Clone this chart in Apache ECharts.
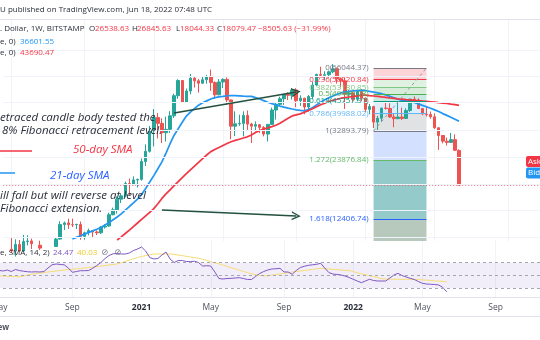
<!DOCTYPE html>
<html>
<head>
<meta charset="utf-8">
<script src="https://cdn.jsdelivr.net/npm/echarts@6.0.0/dist/echarts.min.js"></script>
<style>
html,body{margin:0;padding:0;background:#ffffff}
#chart{width:540px;height:340px}
</style>
</head>
<body>
<div id="chart"></div>
<script>
// Weekly BTC/USD candles (Bitstamp), one per week starting Monday 2020-04-20
const firstWeekUTC = Date.UTC(2020, 3, 20);
const WEEK_MS = 7 * 864e5;
const slotCount = 137; // candle weeks plus empty space to the right
const weeks = Array.from({length: slotCount}, (_, i) => new Date(firstWeekUTC + i * WEEK_MS).toISOString().slice(0, 10));

const open = [6880,7550,8900,8720,9380,8720,9680,9750,9460,9300,
  9010,9290,9240,9170,9950,11690,11900,11670,11650,11700,
  10260,10670,10930,10770,10670,11370,11500,13030,13760,15480,
  16060,18400,18180,19150,19270,23480,26280,33000,38150,35800,
  32280,33500,38900,48600,57500,45200,51200,59000,57300,55800,
  58000,59800,56200,49100,56600,58200,46400,34700,35600,35800,
  39100,35500,34700,35300,34250,31800,35400,41500,44200,47000,
  49300,48800,51800,46000,47300,42900,48200,54700,61500,60900,
  61300,63300,65500,58700,57300,49400,50100,46700,50800,47300,
  41800,43100,36300,37900,42400,42200,38400,37700,38400,37800,
  41300,46800,46400,42200,39700,39500,38500,34100,31300,29400,
  29000,29900,26538.63];
const high = [7790,9470,10070,9930,9850,10430,10380,10000,9640,9780,
  9330,9470,9340,10120,12120,12090,12470,12480,11800,12090,
  10800,11180,10990,10960,11480,11730,13350,14100,15960,16480,
  18800,19420,19920,19420,24280,28400,34800,41950,40100,37850,
  38600,41000,49700,58350,57500,52600,61800,60200,58500,60000,
  61200,64900,57000,58400,59000,59500,46600,40900,39400,40900,
  41300,36000,36600,35400,34700,35500,42600,45300,48100,49400,
  50500,52900,52800,48800,47500,49000,56600,62000,67000,63700,
  64200,69000,66300,59300,59100,51900,50600,51900,52100,47600,
  44400,43500,38900,42500,45800,44700,40000,45400,42600,42300,
  47000,48200,47200,42400,42900,40800,40000,34200,31400,30600,
  32200,31700,26845.63];
const low = [6790,7530,8550,8200,8700,8640,9280,8920,9190,8830,
  8900,9120,9000,9130,9900,11000,11140,11370,11120,9880,
  9880,10370,10130,10410,10530,11180,11420,12950,13200,14830,
  15800,16200,18100,17600,19000,22360,25900,27730,30300,28800,
  29240,32200,37980,47000,44900,45000,49400,53200,50300,55600,
  55500,51300,47000,48800,52900,43900,30000,31100,34800,31000,
  33300,28800,32700,32100,31000,29300,35200,37300,43700,43900,
  46300,46600,42800,43400,39600,40800,46900,53900,59500,57800,
  59500,62300,55600,53300,42000,46800,45500,45600,45700,40600,
  39600,34000,32900,36300,41700,38000,34300,37500,37200,37600,
  40500,45200,41900,39200,38600,37700,33700,26700,28700,28000,
  28900,26400,18044.33];
const close = [7550,8900,8720,9380,8720,9680,9750,9460,9300,9010,
  9290,9240,9170,9950,11690,11900,11670,11650,11700,10260,
  10670,10930,10770,10670,11370,11500,13030,13760,15480,16060,
  18400,18180,19150,19270,23480,26280,33000,38150,35800,32280,
  33500,38900,48600,57500,45200,51200,59000,57300,55800,58000,
  59800,56200,49100,56600,58200,46400,34700,35600,35800,39100,
  35500,34700,35300,34250,31800,35400,41500,44200,47000,49300,
  48800,51800,46000,47300,42900,48200,54700,61500,60900,61300,
  63300,65500,58700,57300,49400,50100,46700,50800,47300,41800,
  43100,36300,37900,42400,42200,38400,37700,38400,37800,41300,
  46800,46400,42200,39700,39500,38500,34100,31300,29400,29000,
  29900,26585.10,18079.47];

// 21-week SMA (blue), first value at week index 17
const sma21Start = 17;
const sma21 = [9960,10140,10320,10510,10700,10900,11090,11310,11620,11940,
  12320,12710,13150,13700,14270,14850,15470,16300,17430,18700,
  20090,21680,23370,25760,28580,31400,33750,36220,38830,40550,
  42100,43770,44940,45900,46870,47600,48030,48300,48600,48700,
  48650,48500,48350,48300,48240,47600,46870,46050,45240,44550,
  43960,43330,42810,42380,41960,41590,41320,41090,41690,42570,
  43860,45190,46460,47450,48460,49320,50150,50750,51040,51270,
  51440,51660,51490,51040,50590,50150,49700,49050,48290,47550,
  46720,46200,45900,45540,45100,44400,43670,42990,42290,41550,
  40820,39880,39100,38280,37490,36601.55];

// 50-week SMA (red), first value at week index 28
const sma50Start = 28;
const sma50 = [9850,10200,10590,10980,11430,11890,12370,12860,13390,13940,
  14720,15610,16410,17170,17970,18800,19650,20510,21400,22310,
  23270,24250,25230,26190,26780,27380,28020,28650,29230,29650,
  30040,30450,30850,31480,32320,33080,33560,34050,34540,35040,
  35860,36830,37860,38880,39310,39750,40500,41230,42060,43050,
  43960,44740,45590,46200,46720,47290,47600,47920,48240,48560,
  48890,48890,48670,48460,48240,47970,47760,47450,47240,46980,
  46770,46560,46410,46200,46000,45850,45640,45440,45240,44990,
  44790,44590,44300,44060,43690.47];

// RSI(14) and its 14-period SMA, one value per week from index 0
const rsi = [57.0,60.0,58.0,
  57.0,58.6,56.2,59.4,57.7,56.7,55.9,55.5,55.8,55.5,
  56.2,61.7,66.7,68.0,67.2,66.7,61.7,55.0,56.2,57.5,
  57.5,57.8,61.3,65.6,70.3,76.4,81.3,83.9,84.4,83.6,
  83.6,85.2,89.1,91.4,94.5,88.3,78.1,75.8,76.6,82.0,
  86.7,75.8,70.3,73.4,73.4,71.9,71.6,72.3,70.3,64.8,
  65.3,64.8,55.5,45.3,44.5,45.3,45.6,46.1,46.6,45.3,
  43.8,43.8,48.4,53.1,56.2,58.6,60.2,60.5,61.3,55.5,
  55.5,51.9,57.8,62.5,64.4,65.9,66.7,67.5,69.1,61.7,
  54.7,52.3,51.6,50.8,49.2,46.9,44.1,41.4,38.8,41.4,
  44.1,42.2,41.4,41.4,41.4,46.1,50.8,53.4,50.0,47.7,
  45.6,43.8,40.6,37.8,36.7,36.3,35.9,35.2,31.3,24.47];
const rsiMa = [49.5,49.3,49.2,
  49.2,48.9,48.6,48.3,48.1,49.2,50.6,51.9,53.0,53.9,
  54.5,55.5,56.2,57.0,57.8,58.6,59.2,59.8,60.3,60.9,
  61.6,62.3,63.1,63.9,64.7,65.5,66.4,67.2,68.0,70.0,
  72.0,74.1,76.1,78.1,79.8,81.1,82.3,83.6,83.6,83.6,
  83.6,83.6,83.1,82.0,81.1,80.0,78.9,78.0,77.0,75.5,
  73.6,71.6,69.8,68.3,66.3,64.2,62.2,60.3,58.4,56.4,
  54.5,52.7,51.4,50.3,49.4,49.4,50.5,51.4,52.5,53.4,
  54.4,55.3,56.3,57.0,57.8,58.8,59.5,60.5,61.3,60.6,
  60.2,59.7,59.2,58.6,58.1,57.7,56.1,54.2,52.5,51.4,
  49.8,48.3,46.7,45.0,44.5,44.4,44.2,44.1,44.1,44.1,
  44.1,43.9,43.6,43.1,42.8,42.3,41.7,41.3,40.8,40.03];
const rsiLevels = [70, 50, 30];

// Fibonacci retracement drawing
const fibLevels = ['0','0.236','0.382','0.5','0.618','0.786','1','1.272','1.618'];
const fibPrices = [66044.37,58220.84,53180.85,49469.08,45757.31,39988.02,32893.79,23876.84,12406.74];
const fibLineColors = ['#787b86','#f23645','#81c784','#4caf50','#089981','#64b5f6','#787b86','#66bb6a','#2962ff'];
const fibBandColors = ['rgba(242,54,69,0.22)','rgba(129,199,132,0.25)','rgba(76,175,80,0.22)','rgba(8,153,129,0.22)',
  'rgba(100,181,246,0.22)','rgba(120,123,134,0.22)','rgba(41,98,255,0.2)','rgba(0,128,128,0.42)','rgba(76,120,90,0.4)'];
const fibStartWeek = 91, fibEndWeek = 104;

// Trend arrows: [week index, price] pairs
const arrowLines = [
  [[42, 40150], [72, 50640]],
  [[39, 13730], [72, 12850]]
];

// Horizontal price grid levels (log scale)
const gridPrices = [80000, 60000, 45000, 33000, 24500, 18300, 13700, 10200];
const priceMin = 9744, priceMax = 112313;

const FONT = '"Open Sans", "Noto Sans", sans-serif';
const pxPerWeek = 4.07;
const paneWidth = (slotCount - 1) * pxPerWeek;

const isMonthMark = (v) => {
  const d = new Date(v + 'T00:00:00Z');
  return d.getUTCDate() <= 7 && d.getUTCMonth() % 4 === 0;
};
const padTo = (start, arr) => Array(start).fill('-').concat(arr);

const candles = open.map((o, i) => [o, close[i], low[i], high[i]]);
const last = open.length - 1;
const change = close[last] - close[last - 1];
const changePct = change / close[last - 1] * 100;
const fmt2 = (v) => v.toFixed(2);
const signed = (v) => (v < 0 ? '\u2212' : '+') + Math.abs(v).toFixed(2);

const fibAreas = fibPrices.map((p, j) => [
  {coord: [weeks[fibStartWeek], p], itemStyle: {color: fibBandColors[j]}},
  {coord: [weeks[fibEndWeek], j + 1 < fibPrices.length ? fibPrices[j + 1] : priceMin]}
]);
const fibLines = fibPrices.map((p, j) => [
  {coord: [weeks[fibStartWeek], p], lineStyle: {color: fibLineColors[j], width: 1, type: 'solid'},
   label: {show: true, position: 'start', distance: 5, color: fibLineColors[j], fontSize: 8, fontFamily: FONT,
     padding: [0, 0, 12, 0], formatter: fibLevels[j] + '(' + fmt2(p) + ')'}},
  {coord: [weeks[fibEndWeek], p]}
]);

const chevron = 'path://M0,10 L5,0 L10,10 L8.4,10 L5,3.2 L1.6,10 Z';
const arrowData = arrowLines.map(([a, b]) => [
  {coord: [weeks[a[0]], a[1]], symbol: 'none'},
  {coord: [weeks[b[0]], b[1]], symbol: chevron, symbolSize: [9, 9]}
]);

const mainText = (x, y, text, fill, extra) => Object.assign({
  type: 'text', x: x, y: y, z: 100,
  style: Object.assign({text: text, fill: fill, font: '8px ' + FONT, textAlign: 'left', textVerticalAlign: 'middle',
    align: 'left', verticalAlign: 'middle'}, extra || {})
});
const noteFont = 'italic 11.5px ' + FONT;

const option = {
  animation: false,
  backgroundColor: '#ffffff',
  textStyle: {fontFamily: FONT},
  grid: [
    {left: 3.2, top: 20, width: paneWidth, height: 221, containLabel: false, outerBoundsMode: 'none'},
    {left: 3.2 - 3 * pxPerWeek, top: 240, width: paneWidth, height: 57, containLabel: false, outerBoundsMode: 'none'}
  ],
  xAxis: [
    {type: 'category', gridIndex: 0, data: weeks, boundaryGap: false,
     axisLine: {show: false}, axisTick: {show: false}, axisLabel: {show: false},
     splitLine: {show: true, interval: (i, v) => isMonthMark(v), lineStyle: {color: '#f0f3fa', width: 1}}},
    {type: 'category', gridIndex: 1, data: weeks, boundaryGap: false,
     axisLine: {show: true, lineStyle: {color: '#e0e3eb'}}, axisTick: {show: false},
     axisLabel: {show: true, interval: (i, v) => isMonthMark(v), margin: 6, color: '#50535e', fontSize: 8.5, fontFamily: FONT,
       formatter: (v) => {
         const d = new Date(v + 'T00:00:00Z');
         const m = d.getUTCMonth();
         return m === 0 ? '{y|' + d.getUTCFullYear() + '}' : (m === 4 ? 'May' : 'Sep');
       },
       rich: {y: {fontWeight: 'bold', color: '#2a2e39', fontSize: 8.5, fontFamily: FONT}}},
     splitLine: {show: true, interval: (i, v) => isMonthMark(v), lineStyle: {color: '#f0f3fa', width: 1}}}
  ],
  yAxis: [
    {type: 'log', gridIndex: 0, logBase: 10, min: priceMin, max: priceMax, show: false, splitLine: {show: false}},
    {type: 'value', gridIndex: 1, min: 16.4, max: 105.5, show: false, splitLine: {show: false}}
  ],
  series: [
    {type: 'line', xAxisIndex: 0, yAxisIndex: 0, data: [], z: 0, silent: true,
     markLine: {silent: true, symbol: ['none', 'none'], label: {show: false},
       lineStyle: {color: '#f0f3fa', width: 1, type: 'solid'},
       data: gridPrices.map(p => ({yAxis: p}))}},
    {type: 'line', xAxisIndex: 0, yAxisIndex: 0, data: [], z: 1, silent: true,
     markArea: {silent: true, data: fibAreas}},
    {type: 'candlestick', xAxisIndex: 0, yAxisIndex: 0, z: 3, barWidth: 3, data: candles,
     itemStyle: {color: '#26a69a', color0: '#ef5350', borderColor: '#26a69a', borderColor0: '#ef5350', borderWidth: 1},
     markLine: {silent: true, symbol: ['none', 'none'], label: {show: false},
       lineStyle: {color: '#f23645', width: 1, type: [1, 2], opacity: 0.7},
       data: [{yAxis: close[last]}]}},
    {type: 'line', xAxisIndex: 0, yAxisIndex: 0, z: 4, data: padTo(sma21Start, sma21), symbol: 'none',
     lineStyle: {color: '#2196f3', width: 1.7}},
    {type: 'line', xAxisIndex: 0, yAxisIndex: 0, z: 4, data: padTo(sma50Start, sma50), symbol: 'none',
     lineStyle: {color: '#f23645', width: 1.7}},
    {type: 'line', xAxisIndex: 0, yAxisIndex: 0, data: [], z: 5, silent: true,
     markLine: {silent: true, symbol: ['none', 'none'], label: {show: false}, data: fibLines.concat([
       [{coord: [weeks[fibStartWeek], fibPrices[6]], lineStyle: {color: '#9598a1', width: 1, type: [3, 3]}},
        {coord: [weeks[fibEndWeek], fibPrices[0]]}]
     ])}},
    {type: 'line', xAxisIndex: 0, yAxisIndex: 0, data: [], z: 6, silent: true,
     markLine: {silent: true, label: {show: false}, lineStyle: {color: '#23503f', width: 1.5, type: 'solid'},
       data: arrowData}},
    {type: 'line', xAxisIndex: 1, yAxisIndex: 1, z: 3, data: rsiMa, symbol: 'none',
     lineStyle: {color: '#f5dc74', width: 1}},
    {type: 'line', xAxisIndex: 1, yAxisIndex: 1, z: 4, data: rsi, symbol: 'none',
     lineStyle: {color: '#7e57c2', width: 1},
     markArea: {silent: true, itemStyle: {color: 'rgba(126,87,194,0.1)'}, data: [[{yAxis: rsiLevels[2]}, {yAxis: rsiLevels[0]}]]},
     markLine: {silent: true, symbol: ['none', 'none'], label: {show: false},
       lineStyle: {color: '#a3a6af', width: 1, type: [3, 3]},
       data: rsiLevels.map(v => ({yAxis: v}))}}
  ],
  graphic: [
    {type: 'line', z: 100, shape: {x1: 0, y1: 19.5, x2: 540, y2: 19.5}, style: {stroke: '#e0e3eb', lineWidth: 1}},
    {type: 'line', z: 100, shape: {x1: 0, y1: 316.5, x2: 540, y2: 316.5}, style: {stroke: '#e0e3eb', lineWidth: 1}},
    mainText(0, 10, 'U published on TradingView.com, Jun 18, 2022 07:48 UTC', '#2a2e39', {font: '8px ' + FONT}),
    mainText(0, 29, '. Dollar, 1W, BITSTAMP', '#2a2e39'),
    mainText(89, 29, 'O', '#2a2e39'), mainText(95, 29, fmt2(open[last]), '#f23645'),
    mainText(132, 29, 'H', '#2a2e39'), mainText(137, 29, fmt2(high[last]), '#f23645'),
    mainText(176, 29, 'L', '#2a2e39'), mainText(180, 29, fmt2(low[last]), '#f23645'),
    mainText(217, 29, 'C', '#2a2e39'), mainText(222, 29, fmt2(close[last]), '#f23645'),
    mainText(258, 29, signed(change) + ' (' + signed(changePct) + '%)', '#f23645'),
    mainText(0, 42, 'e, 0)', '#2a2e39'), mainText(20, 42, fmt2(sma21[sma21.length - 1]), '#2196f3'),
    mainText(0, 53, 'e, 0)', '#2a2e39'), mainText(20, 53, fmt2(sma50[sma50.length - 1]), '#f23645'),
    mainText(0, 252.5, 'e, SMA, 14, 2)', '#2a2e39'),
    mainText(53, 252.5, fmt2(rsi[rsi.length - 1]), '#7e57c2'),
    mainText(77, 252.5, fmt2(rsiMa[rsiMa.length - 1]), '#f0c929'),
    mainText(101, 252.5, '\u2298', '#787b86', {font: '8.5px "DejaVu Sans"'}),
    mainText(114, 252.5, '\u2298', '#787b86', {font: '8.5px "DejaVu Sans"'}),
    mainText(0, 118, 'etraced candle body tested the', '#2a2e39', {font: noteFont}),
    mainText(2, 130.5, '8% Fibonacci retracement level.', '#2a2e39', {font: noteFont}),
    {type: 'line', z: 100, shape: {x1: 0, y1: 151, x2: 32, y2: 151}, style: {stroke: '#f23645', lineWidth: 1.5}},
    mainText(73, 150, '50-day SMA', '#f23645', {font: noteFont}),
    {type: 'line', z: 100, shape: {x1: 0, y1: 173, x2: 15, y2: 173}, style: {stroke: '#2196f3', lineWidth: 1.5}},
    mainText(50, 175.5, '21-day SMA', '#2962ff', {font: noteFont}),
    mainText(0, 196, 'ill fall but will reverse at level', '#2a2e39', {font: noteFont}),
    mainText(0, 208.5, 'Fibonacci extension.', '#2a2e39', {font: noteFont}),
    {type: 'rect', z: 100, shape: {x: 526, y: 156, width: 20, height: 11, r: 2}, style: {fill: '#f23645'}},
    mainText(528, 161.5, 'Ask', '#ffffff'),
    {type: 'rect', z: 100, shape: {x: 526, y: 167.5, width: 20, height: 11, r: 2}, style: {fill: '#2196f3'}},
    mainText(528, 173, 'Bid', '#ffffff'),
    mainText(9, 328, 'TradingView', '#50535e', {font: 'bold 8px ' + FONT, textAlign: 'right', align: 'right'})
  ]
};

const chart = echarts.init(document.getElementById('chart'), null, {renderer: 'canvas'});
chart.setOption(option);
</script>
</body>
</html>
